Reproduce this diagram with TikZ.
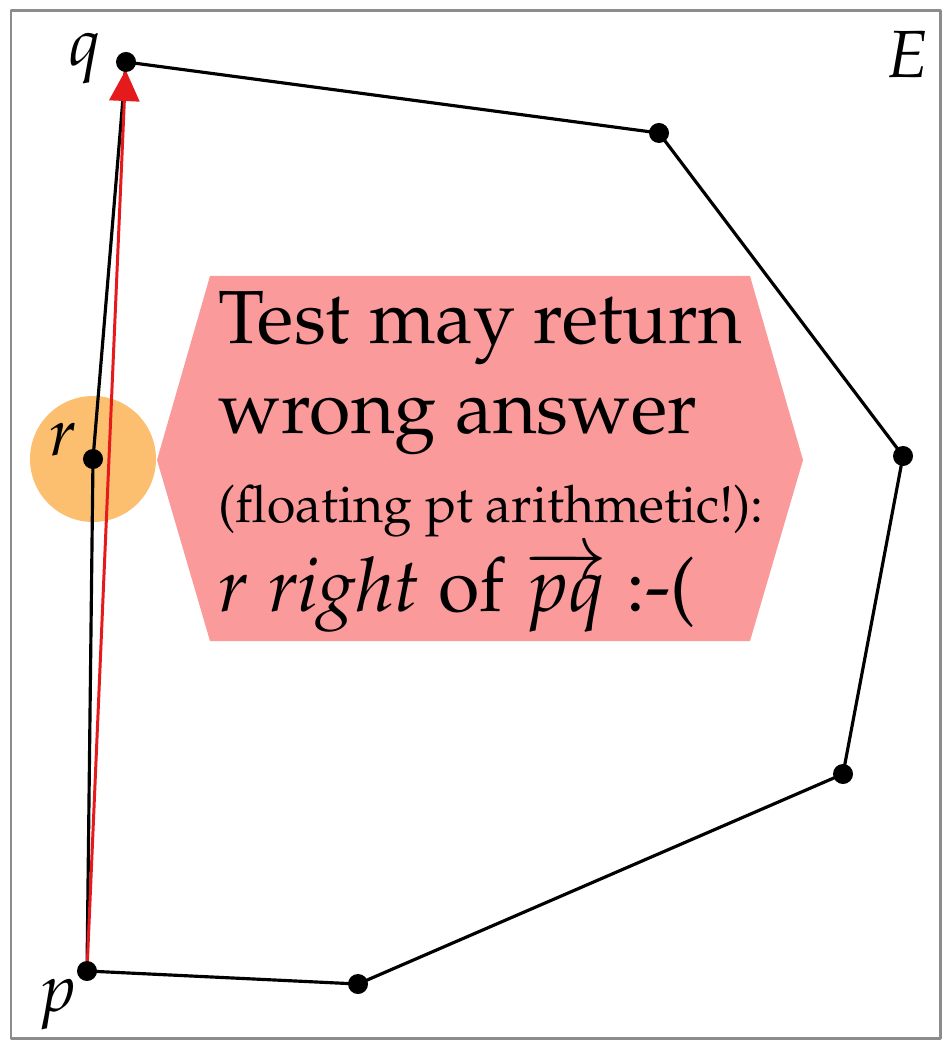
\documentclass[tikz,border=0pt]{standalone}
\usepackage[T1]{fontenc}
\usepackage{mathpazo}
\usetikzlibrary{arrows.meta}
\definecolor{warnpink}{HTML}{FA9A9A}
\definecolor{hiorange}{HTML}{FBBF6F}
\definecolor{arrred}{HTML}{E41A1C}
\begin{document}
\begin{tikzpicture}[x=0.01cm,y=-0.01cm,line cap=round,line join=round,
    pt/.style={circle,fill=black,inner sep=0pt,minimum size=0.2cm},
    lbl/.style={font=\fontsize{19}{22}\selectfont,anchor=base}]
  \useasboundingbox (0,0) rectangle (950,1049);
  \draw[gray!90,line width=0.85pt] (11,11) rectangle (940,1038);
  % points of E
  \coordinate (q) at (126,62);
  \coordinate (a) at (659,133);
  \coordinate (b) at (903,456);
  \coordinate (c) at (843,774);
  \coordinate (d) at (358,984);
  \coordinate (p) at (87,971);
  \coordinate (r) at (93,459);
  \fill[hiorange] (r) circle (63);
  \draw[line width=0.9pt] (q) -- (a) -- (b) -- (c) -- (d) -- (p) -- (r) -- cycle;
  \draw[arrred,line width=0.85pt,-{Triangle[width=0.3cm,length=0.31cm]},shorten >=0.08cm] (p) -- (q);
  \foreach \v in {q,a,b,c,d,p,r} \node[pt] at (\v) {};
  \node[lbl] (lq) at (85,66) {$q$};
  \node[lbl] (lE) at (907,78) {$E$};
  \node[lbl] (lr) at (63,455) {$r$};
  \node[lbl] (lp) at (57,1011) {$p$};
  % warning box
  \fill[warnpink] (210,276) -- (750,276) -- (803,460) -- (750,641) -- (210,641) -- (157,460) -- cycle;
  \node[anchor=west,align=left,inner sep=0pt,font=\fontsize{21.4}{25.4}\selectfont] (msg) at (218,462)
    {Test may return\\wrong answer\\{\fontsize{14.7}{25.4}\selectfont (floating pt arithmetic!):}\\$r$ \textit{right} of $\overrightarrow{pq}$ :-(};
\end{tikzpicture}
\end{document}
